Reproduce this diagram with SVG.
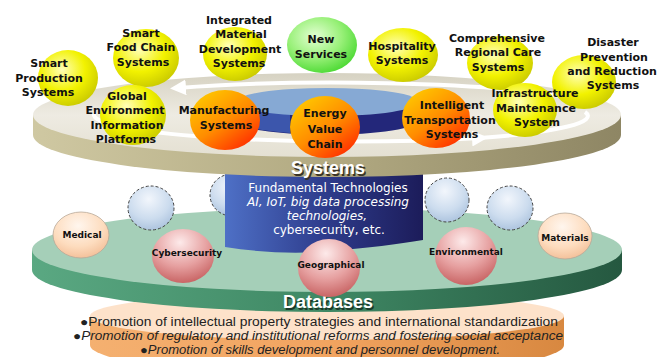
<svg xmlns="http://www.w3.org/2000/svg" width="661" height="357" viewBox="0 0 661 357">
<defs>
<radialGradient id="gY" cx="0.4" cy="0.35" r="0.7"><stop offset="0" stop-color="#ffffb8"/><stop offset="0.55" stop-color="#f2f200"/><stop offset="1" stop-color="#c8c800"/></radialGradient>
<radialGradient id="gG" cx="0.4" cy="0.35" r="0.7"><stop offset="0" stop-color="#e4ffd4"/><stop offset="0.55" stop-color="#98f078"/><stop offset="1" stop-color="#48d830"/></radialGradient>
<linearGradient id="gO" x1="0.15" y1="0.1" x2="0.85" y2="0.95"><stop offset="0" stop-color="#ffc400"/><stop offset="0.5" stop-color="#ff8c00"/><stop offset="1" stop-color="#ff2c00"/></linearGradient>
<radialGradient id="gB" cx="0.45" cy="0.3" r="0.75"><stop offset="0" stop-color="#f2f6fc"/><stop offset="0.6" stop-color="#ccdcee"/><stop offset="1" stop-color="#a8c0dc"/></radialGradient>
<radialGradient id="gP" cx="0.45" cy="0.3" r="0.75"><stop offset="0" stop-color="#fff6ee"/><stop offset="0.6" stop-color="#fddcbe"/><stop offset="1" stop-color="#f2bc94"/></radialGradient>
<radialGradient id="gR" cx="0.45" cy="0.25" r="0.8"><stop offset="0" stop-color="#fdeaea"/><stop offset="0.55" stop-color="#e6a0a0"/><stop offset="1" stop-color="#c45c5c"/></radialGradient>
<linearGradient id="sysBand" x1="0" y1="0" x2="1" y2="0"><stop offset="0" stop-color="#cfc8a2"/><stop offset="0.5" stop-color="#b2aa82"/><stop offset="1" stop-color="#8e8664"/></linearGradient>
<linearGradient id="sysTop" x1="0" y1="0" x2="0" y2="1"><stop offset="0" stop-color="#d6d2c2"/><stop offset="0.5" stop-color="#eeebe2"/><stop offset="1" stop-color="#e4e0d2"/></linearGradient>
<linearGradient id="dbBand" x1="0" y1="0" x2="1" y2="0"><stop offset="0" stop-color="#5aa882"/><stop offset="0.5" stop-color="#3f8864"/><stop offset="1" stop-color="#255840"/></linearGradient>
<linearGradient id="pBand" x1="0" y1="0" x2="1" y2="0"><stop offset="0" stop-color="#f4b070"/><stop offset="0.5" stop-color="#f2a460"/><stop offset="1" stop-color="#d88840"/></linearGradient>
<linearGradient id="cyl" x1="0" y1="0" x2="1" y2="0"><stop offset="0" stop-color="#4e70c6"/><stop offset="0.5" stop-color="#2e3c8c"/><stop offset="1" stop-color="#1c1c5a"/></linearGradient>
<marker id="ah" viewBox="0 0 10 10" refX="5" refY="5" markerWidth="4" markerHeight="4" orient="auto"><path d="M0,0 L10,5 L0,10 Z" fill="#ffffff"/></marker>
<style>
.t{font-family:"DejaVu Sans",sans-serif;font-size:11px;font-weight:bold;text-anchor:middle;fill:#111}
.s{font-family:"DejaVu Sans",sans-serif;font-size:9px;font-weight:bold;text-anchor:middle;fill:#111}
.c{font-family:"DejaVu Sans",sans-serif;font-size:12px;text-anchor:middle;fill:#fff}
.h{font-family:"Liberation Sans",sans-serif;font-size:18px;font-weight:bold;text-anchor:middle}
.b{font-family:"Liberation Sans",sans-serif;font-size:12px;text-anchor:middle;fill:#222}
.dash{stroke:#444;stroke-width:1;stroke-dasharray:3 2}
</style>
</defs>
<rect width="661" height="357" fill="#ffffff"/>

<!-- bottom peach disk -->
<g id="promotion-disk">
<path d="M90,316 L90,345 A237,30 0 0 0 564,345 L564,316 Z" fill="url(#pBand)"/>
<ellipse cx="327" cy="316" rx="237" ry="24" fill="#fde2ca"/>
<text class="b" x="319" y="326" textLength="478" lengthAdjust="spacingAndGlyphs">●Promotion of intellectual property strategies and international standardization</text>
<text class="b" x="318" y="340" font-style="italic" textLength="490" lengthAdjust="spacingAndGlyphs">●Promotion of regulatory and institutional reforms and fostering social acceptance</text>
<text class="b" x="320" y="354" font-style="italic" textLength="360" lengthAdjust="spacingAndGlyphs">●Promotion of skills development and personnel development.</text>
</g>

<!-- databases disk -->
<g id="databases-disk">
<path d="M32,250 L32,270 A295,42 0 0 0 622,270 L622,250 Z" fill="url(#dbBand)"/>
<ellipse cx="327" cy="250" rx="295" ry="42" fill="#a5cfb8"/>
<text class="h" x="329.5" y="309.5" fill="#1a3a2a">Databases</text>
<text class="h" x="328" y="308" fill="#ffffff">Databases</text>
</g>

<g id="db-blue-1"><ellipse cx="151" cy="208" rx="23" ry="22" fill="url(#gB)" class="dash"/></g>
<g id="db-blue-2"><ellipse cx="232" cy="195" rx="22" ry="21" fill="url(#gB)" class="dash"/></g>
<g id="db-blue-3"><ellipse cx="447" cy="200" rx="22" ry="22" fill="url(#gB)" class="dash"/></g>
<g id="db-blue-4"><ellipse cx="510" cy="208" rx="23" ry="22" fill="url(#gB)" class="dash"/></g>
<g id="db-medical"><ellipse cx="81" cy="235" rx="28" ry="23" fill="url(#gP)" stroke="#b8a898" stroke-width="0.8"/><text class="s" x="82" y="238">Medical</text></g>
<g id="db-materials"><ellipse cx="565" cy="236" rx="27" ry="23" fill="url(#gP)" stroke="#b8a898" stroke-width="0.8"/><text class="s" x="565" y="241">Materials</text></g>

<!-- fundamental technologies cylinder -->
<g id="fundamental-technologies">
<path d="M225,150 L225,247 C262,253 300,254 332,251 C368,248 398,244 423,240 L423,150 Z" fill="url(#cyl)"/>
<text class="c" x="328" y="192">Fundamental Technologies</text>
<text class="c" x="328" y="206" font-style="italic">AI, IoT, big data processing</text>
<text class="c" x="327" y="220" font-style="italic">technologies,</text>
<text class="c" x="329" y="234">cybersecurity, etc.</text>
</g>

<g id="db-cybersecurity"><ellipse cx="183" cy="256" rx="31" ry="27" fill="url(#gR)"/><text class="s" x="187" y="256">Cybersecurity</text></g>
<g id="db-geographical"><ellipse cx="329" cy="268" rx="31" ry="29" fill="url(#gR)"/><text class="s" x="331" y="268">Geographical</text></g>
<g id="db-environmental"><ellipse cx="466" cy="256" rx="31" ry="29" fill="url(#gR)"/><text class="s" x="466" y="255">Environmental</text></g>

<!-- systems disk -->
<g id="systems-disk">
<path d="M33,115 L33,135 A294,42 0 0 0 621,135 L621,115 Z" fill="url(#sysBand)"/>
<ellipse cx="327" cy="115" rx="294" ry="42" fill="url(#sysTop)"/>
<path d="M235,102 L235,120 A92,15 0 0 0 419,120 L419,102 Z" fill="#23277a"/>
<path d="M235,102 L235,120 A92,15 0 0 0 290,133 L290,104 Z" fill="#3c56ac"/>
<ellipse cx="327" cy="102" rx="92" ry="14" fill="#86a9d4"/>
<text class="h" x="329.5" y="175.5" fill="#3a3426">Systems</text>
<text class="h" x="328" y="174" fill="#ffffff">Systems</text>
</g>

<g id="connectors">
<path d="M560,96 A258,26 0 0 0 178,88" fill="none" stroke="#ffffff" stroke-width="4" marker-end="url(#ah)"/>
<path d="M95,112 A258,27 0 0 0 480,138" fill="none" stroke="#ffffff" stroke-width="4" marker-end="url(#ah)"/>
<path d="M480,138 A258,27 0 0 0 585,112" fill="none" stroke="#ffffff" stroke-width="4"/>
</g>

<!-- back row spheres -->
<g id="smart-food-chain"><ellipse cx="146" cy="58" rx="33" ry="29" fill="url(#gY)"/><text class="t" x="141" y="37">Smart</text><text class="t" x="141" y="51">Food Chain</text><text class="t" x="143" y="66">Systems</text></g>
<g id="integrated-material"><ellipse cx="235" cy="54" rx="32" ry="27" fill="url(#gY)"/><text class="t" x="239" y="24">Integrated</text><text class="t" x="241" y="38">Material</text><text class="t" x="240" y="53">Development</text><text class="t" x="239" y="67">Systems</text></g>
<g id="new-services"><ellipse cx="322" cy="45" rx="35" ry="28" fill="url(#gG)"/><text class="t" x="321" y="43">New</text><text class="t" x="321" y="58">Services</text></g>
<g id="hospitality"><ellipse cx="403" cy="55" rx="35" ry="27" fill="url(#gY)"/><text class="t" x="402" y="50">Hospitality</text><text class="t" x="402" y="64">Systems</text></g>
<g id="comprehensive-care"><ellipse cx="500" cy="63" rx="33" ry="27" fill="url(#gY)"/><text class="t" x="497" y="42">Comprehensive</text><text class="t" x="498" y="56">Regional Care</text><text class="t" x="498" y="71">Systems</text></g>
<g id="disaster-prevention"><ellipse cx="584" cy="82" rx="32" ry="27" fill="url(#gY)"/><text class="t" x="613" y="46">Disaster</text><text class="t" x="614" y="61">Prevention</text><text class="t" x="612" y="75">and Reduction</text><text class="t" x="613" y="89">Systems</text></g>
<g id="smart-production"><ellipse cx="68" cy="78" rx="30" ry="28" fill="url(#gY)"/><text class="t" x="49" y="67">Smart</text><text class="t" x="49" y="82">Production</text><text class="t" x="48" y="96">Systems</text></g>
<g id="global-environment"><ellipse cx="133" cy="115" rx="33" ry="30" fill="url(#gY)"/><text class="t" x="127" y="100">Global</text><text class="t" x="125" y="114">Environment</text><text class="t" x="127" y="129">Information</text><text class="t" x="126" y="143">Platforms</text></g>
<g id="infrastructure"><ellipse cx="525" cy="110" rx="32" ry="27" fill="url(#gY)"/><text class="t" x="535" y="97">Infrastructure</text><text class="t" x="536" y="112">Maintenance</text><text class="t" x="537" y="126">System</text></g>

<!-- front orange spheres -->
<g id="manufacturing"><ellipse cx="225" cy="120" rx="35" ry="30" fill="url(#gO)"/><text class="t" x="224" y="114">Manufacturing</text><text class="t" x="226" y="129">Systems</text></g>
<g id="energy-value-chain"><ellipse cx="325" cy="127" rx="35" ry="31" fill="url(#gO)"/><text class="t" x="325" y="117">Energy</text><text class="t" x="325" y="133">Value</text><text class="t" x="325" y="148">Chain</text></g>
<g id="intelligent-transportation"><ellipse cx="436" cy="118" rx="34" ry="30" fill="url(#gO)"/><text class="t" x="452" y="109">Intelligent</text><text class="t" x="450" y="124">Transportation</text><text class="t" x="452" y="138">Systems</text></g>
</svg>
